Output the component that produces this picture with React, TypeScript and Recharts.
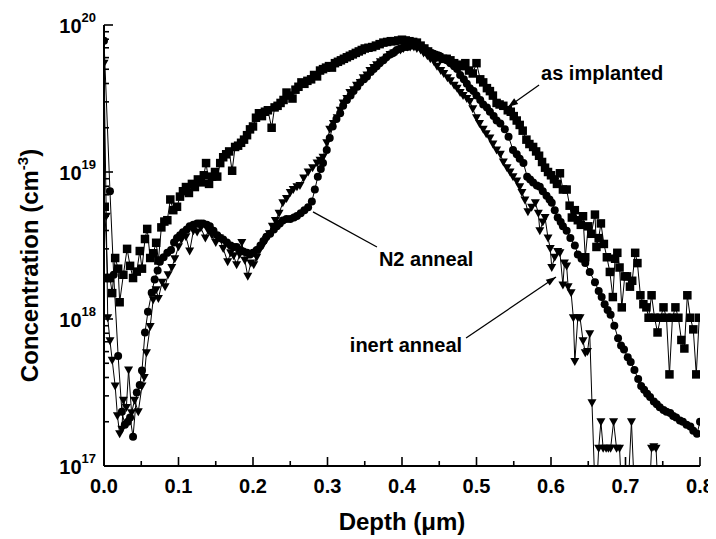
import React from 'react';
import { ComposedChart, Line, XAxis, YAxis, ReferenceLine, ReferenceDot } from 'recharts';

// ---------- data ----------
const implantDepth = [
  0.001, 0.005, 0.008, 0.011, 0.015, 0.019, 0.021, 0.026, 0.031, 0.035, 0.039, 0.044, 0.048, 0.051, 0.055, 0.058,
  0.062, 0.066, 0.070, 0.073, 0.077, 0.081, 0.085, 0.089, 0.093, 0.098, 0.102, 0.106, 0.110, 0.114, 0.118, 0.122,
  0.126, 0.130, 0.134, 0.137, 0.141, 0.145, 0.149, 0.152, 0.156, 0.160, 0.164, 0.168, 0.172, 0.176, 0.180, 0.184,
  0.188, 0.192, 0.196, 0.200, 0.204, 0.208, 0.212, 0.216, 0.220, 0.225, 0.229, 0.233, 0.237, 0.241, 0.245, 0.249,
  0.253, 0.257, 0.261, 0.265, 0.269, 0.273, 0.278, 0.282, 0.286, 0.290, 0.294, 0.298, 0.302, 0.306, 0.310, 0.314,
  0.318, 0.322, 0.326, 0.330, 0.334, 0.338, 0.342, 0.346, 0.350, 0.355, 0.360, 0.365, 0.370, 0.375, 0.380, 0.385,
  0.390, 0.395, 0.400, 0.405, 0.410, 0.415, 0.420, 0.425, 0.430, 0.435, 0.440, 0.445, 0.450, 0.455, 0.460, 0.465,
  0.470, 0.475, 0.480, 0.485, 0.490, 0.495, 0.500, 0.505, 0.509, 0.514, 0.518, 0.522, 0.527, 0.531, 0.536, 0.542,
  0.546, 0.550, 0.554, 0.558, 0.562, 0.567, 0.571, 0.576, 0.580, 0.584, 0.588, 0.592, 0.596, 0.600, 0.604, 0.608,
  0.612, 0.616, 0.621, 0.625, 0.628, 0.632, 0.636, 0.640, 0.643, 0.646, 0.650, 0.654, 0.659, 0.661, 0.664, 0.667,
  0.671, 0.675, 0.679, 0.683, 0.686, 0.689, 0.692, 0.695, 0.699, 0.702, 0.706, 0.709, 0.713, 0.716, 0.720, 0.724,
  0.728, 0.731, 0.735, 0.739, 0.743, 0.747, 0.751, 0.755, 0.759, 0.763, 0.767, 0.771, 0.775, 0.779, 0.783, 0.787,
  0.791, 0.795, 0.799,
];
const implantConc = [
  5.8e18, 1.9e18, 1.9e18, 1.5e18, 2.6e18, 2.2e18, 1.3e18, 2.0e18, 3.0e18, 2.3e18, 1.9e18, 2.1e18, 2.9e18, 2.2e18, 3.5e18, 4.1e18,
  2.6e18, 2.8e18, 3.3e18, 2.5e18, 4.2e18, 4.6e18, 4.7e18, 6.5e18, 5.5e18, 5.8e18, 6.8e18, 7.4e18, 7.9e18, 7.2e18, 8.3e18, 7.9e18,
  8.9e18, 8.5e18, 9.5e18, 1.15e19, 8.3e18, 9.3e18, 1.0e19, 9.3e18, 1.15e19, 1.26e19, 1.32e19, 1.38e19, 1.02e19, 1.48e19, 1.51e19, 1.58e19,
  1.66e19, 1.78e19, 1.95e19, 2.04e19, 2.34e19, 2.51e19, 2.4e19, 2.57e19, 2.63e19, 2.0e19, 2.75e19, 2.82e19, 2.95e19, 3.09e19, 3.47e19, 3.31e19,
  3.16e19, 3.63e19, 3.8e19, 4.07e19, 3.98e19, 4.17e19, 4.27e19, 4.57e19, 4.47e19, 4.9e19, 5.01e19, 5.13e19, 5.25e19, 5.13e19, 5.5e19, 5.62e19,
  5.75e19, 5.89e19, 6.03e19, 6.17e19, 6.31e19, 6.46e19, 6.61e19, 6.76e19, 6.92e19, 7.0e19, 7.08e19, 7.24e19, 7.41e19, 7.59e19, 7.67e19, 7.76e19,
  7.76e19, 7.85e19, 7.94e19, 7.85e19, 7.76e19, 7.67e19, 7.59e19, 7.24e19, 6.92e19, 6.61e19, 6.31e19, 6.17e19, 6.03e19, 5.89e19, 5.89e19, 5.75e19,
  5.5e19, 5.37e19, 5.25e19, 5.5e19, 4.9e19, 4.68e19, 5.5e19, 4.27e19, 4.07e19, 3.72e19, 3.55e19, 3.31e19, 2.95e19, 2.88e19, 2.82e19, 2.63e19,
  2.57e19, 2.4e19, 2.24e19, 2.09e19, 1.91e19, 1.66e19, 1.55e19, 1.48e19, 1.38e19, 1.29e19, 1.17e19, 1.07e19, 1.0e19, 9.5e18, 8.9e18, 8.3e18,
  9.8e18, 7.6e18, 7.6e18, 5.9e18, 4.9e18, 5.5e18, 4.7e18, 4.37e18, 5.0e18, 2.63e18, 4.27e18, 3.8e18, 5.13e18, 3.09e18, 3.55e18, 4.47e18,
  3.24e18, 2.63e18, 2.09e18, 1.41e18, 2.57e18, 2.82e18, 2.24e18, 1.2e18, 1.95e18, 1.95e18, 1.66e18, 1.82e18, 2.82e18, 2.4e18, 1.45e18, 1.26e18,
  1.2e18, 1.02e18, 1.45e18, 1.02e18, 8.1e17, 1.02e18, 1.2e18, 1.02e18, 4.2e17, 1.02e18, 1.2e18, 1.02e18, 7.2e17, 6.3e17, 1.45e18, 1.02e18,
  8.5e17, 4.2e17, 1.02e18,
];

const n2Depth = [
  0.000, 0.008, 0.013, 0.019, 0.024, 0.028, 0.032, 0.035, 0.039, 0.044, 0.048, 0.051, 0.055, 0.059, 0.064, 0.068,
  0.072, 0.075, 0.080, 0.085, 0.090, 0.094, 0.098, 0.102, 0.106, 0.111, 0.115, 0.120, 0.125, 0.129, 0.133, 0.138,
  0.142, 0.147, 0.152, 0.156, 0.160, 0.165, 0.170, 0.174, 0.178, 0.183, 0.187, 0.192, 0.196, 0.200, 0.205, 0.210,
  0.214, 0.218, 0.223, 0.228, 0.232, 0.236, 0.240, 0.245, 0.250, 0.255, 0.259, 0.264, 0.269, 0.274, 0.279, 0.283,
  0.287, 0.291, 0.294, 0.299, 0.303, 0.307, 0.312, 0.317, 0.321, 0.326, 0.331, 0.335, 0.340, 0.344, 0.349, 0.353,
  0.358, 0.362, 0.366, 0.370, 0.375, 0.379, 0.384, 0.388, 0.393, 0.398, 0.403, 0.407, 0.412, 0.416, 0.420, 0.425,
  0.430, 0.435, 0.440, 0.445, 0.450, 0.455, 0.460, 0.465, 0.470, 0.474, 0.478, 0.483, 0.487, 0.491, 0.496, 0.500,
  0.505, 0.509, 0.514, 0.518, 0.523, 0.527, 0.532, 0.538, 0.543, 0.549, 0.554, 0.558, 0.563, 0.568, 0.572, 0.576,
  0.581, 0.585, 0.589, 0.594, 0.598, 0.601, 0.605, 0.609, 0.613, 0.616, 0.621, 0.626, 0.632, 0.636, 0.641, 0.646,
  0.652, 0.659, 0.664, 0.668, 0.672, 0.676, 0.680, 0.685, 0.690, 0.694, 0.698, 0.703, 0.707, 0.712, 0.717, 0.721,
  0.725, 0.729, 0.733, 0.738, 0.742, 0.746, 0.751, 0.755, 0.760, 0.764, 0.768, 0.773, 0.777, 0.782, 0.787, 0.791,
  0.796, 0.800,
];
const n2Conc = [
  7.8e19, 7.4e18, 2.0e18, 5.6e17, 2.34e17, 1.91e17, 2.0e17, 2.14e17, 1.58e17, 3.16e17, 3.55e17, 4.47e17, 8.1e17, 1.12e18, 1.51e18, 1.86e18,
  2.14e18, 2.45e18, 2.63e18, 2.82e18, 2.95e18, 3.31e18, 3.55e18, 3.72e18, 3.89e18, 4.07e18, 4.27e18, 4.37e18, 4.47e18, 4.47e18, 4.47e18, 4.37e18,
  4.27e18, 3.98e18, 3.72e18, 3.55e18, 3.47e18, 3.31e18, 3.16e18, 3.09e18, 3.09e18, 2.95e18, 2.88e18, 2.82e18, 2.75e18, 2.82e18, 2.95e18, 3.16e18,
  3.39e18, 3.63e18, 3.8e18, 4.07e18, 4.27e18, 4.47e18, 4.68e18, 4.79e18, 4.79e18, 4.9e18, 5.01e18, 5.25e18, 5.5e18, 5.75e18, 6.31e18, 7.59e18,
  9.3e18, 1.05e19, 1.15e19, 1.41e19, 1.7e19, 2.04e19, 2.29e19, 2.51e19, 2.82e19, 3.09e19, 3.31e19, 3.55e19, 3.8e19, 4.07e19, 4.27e19, 4.47e19,
  4.79e19, 5.01e19, 5.25e19, 5.5e19, 5.75e19, 6.03e19, 6.31e19, 6.46e19, 6.76e19, 6.92e19, 7.08e19, 7.08e19, 7.24e19, 7.24e19, 7.24e19, 7.08e19,
  6.92e19, 6.61e19, 6.46e19, 6.31e19, 6.17e19, 5.89e19, 5.75e19, 5.5e19, 5.25e19, 5.01e19, 4.57e19, 4.27e19, 3.98e19, 3.72e19, 3.55e19, 3.31e19,
  3.09e19, 2.88e19, 2.75e19, 2.57e19, 2.4e19, 2.24e19, 2.14e19, 1.95e19, 1.74e19, 1.41e19, 1.32e19, 1.23e19, 1.15e19, 9.3e18, 8.9e18, 8.5e18,
  8.1e18, 7.94e18, 7.4e18, 6.9e18, 6.5e18, 6.17e18, 5.5e18, 4.9e18, 4.57e18, 4.27e18, 3.98e18, 3.55e18, 3.16e18, 2.75e18, 2.57e18, 2.4e18,
  2.09e18, 1.78e18, 1.55e18, 1.41e18, 1.26e18, 1.15e18, 1.07e18, 9.0e17, 7.4e17, 6.6e17, 6.2e17, 5.5e17, 5.1e17, 4.5e17, 3.9e17, 3.5e17,
  3.3e17, 3.1e17, 2.95e17, 2.75e17, 2.63e17, 2.51e17, 2.4e17, 2.34e17, 2.29e17, 2.19e17, 2.14e17, 2.04e17, 2.0e17, 1.91e17, 1.86e17, 1.74e17,
  1.66e17, 2.0e17,
];

const inertDepth = [
  0.000, 0.003, 0.005, 0.008, 0.011, 0.015, 0.018, 0.021, 0.024, 0.026, 0.030, 0.033, 0.037, 0.041, 0.046, 0.051,
  0.054, 0.057, 0.062, 0.066, 0.070, 0.073, 0.078, 0.082, 0.086, 0.091, 0.095, 0.100, 0.104, 0.110, 0.115, 0.120,
  0.125, 0.130, 0.136, 0.140, 0.145, 0.150, 0.155, 0.160, 0.166, 0.170, 0.174, 0.178, 0.182, 0.185, 0.189, 0.193,
  0.197, 0.201, 0.205, 0.209, 0.213, 0.218, 0.222, 0.226, 0.230, 0.235, 0.240, 0.245, 0.250, 0.254, 0.259, 0.263,
  0.268, 0.274, 0.280, 0.286, 0.290, 0.294, 0.299, 0.303, 0.308, 0.313, 0.317, 0.321, 0.326, 0.330, 0.335, 0.339,
  0.344, 0.348, 0.353, 0.357, 0.362, 0.366, 0.371, 0.375, 0.380, 0.384, 0.389, 0.393, 0.398, 0.402, 0.407, 0.411,
  0.416, 0.420, 0.425, 0.429, 0.434, 0.438, 0.443, 0.447, 0.452, 0.456, 0.461, 0.465, 0.470, 0.474, 0.478, 0.482,
  0.487, 0.491, 0.495, 0.500, 0.504, 0.509, 0.513, 0.518, 0.522, 0.527, 0.532, 0.536, 0.541, 0.545, 0.549, 0.554,
  0.558, 0.561, 0.565, 0.569, 0.574, 0.579, 0.583, 0.585, 0.589, 0.592, 0.596, 0.599, 0.601, 0.605, 0.609, 0.612,
  0.616, 0.618, 0.621, 0.623, 0.627, 0.630, 0.632, 0.636, 0.639, 0.643, 0.646, 0.649, 0.652, 0.655, 0.660, 0.664,
  0.667, 0.670, 0.674, 0.677, 0.680, 0.684, 0.688, 0.692, 0.696, 0.702, 0.708, 0.713, 0.722, 0.731, 0.735, 0.738,
  0.741, 0.745,
];
const inertConc = [
  5.5e19, 5.0e18, 1.02e18, 7.1e17, 5.25e17, 3.5e17, 2.2e17, 1.66e17, 1.78e17, 2.8e17, 2.5e17, 4.5e17, 2.3e17, 2.8e17, 2.34e17, 3.5e17,
  4.0e17, 5.9e17, 8.9e17, 1.35e18, 1.58e18, 1.38e18, 1.78e18, 1.66e18, 2.0e18, 2.24e18, 2.57e18, 3.1e18, 3.47e18, 3.63e18, 2.9e18, 3.98e18,
  3.9e18, 4.17e18, 3.55e18, 3.98e18, 3.72e18, 3.31e18, 3.55e18, 3.02e18, 2.45e18, 2.82e18, 2.69e18, 2.34e18, 2.75e18, 3.31e18, 2.51e18, 1.95e18,
  2.4e18, 2.34e18, 2.63e18, 2.95e18, 3.16e18, 3.47e18, 3.8e18, 4.27e18, 4.68e18, 5.25e18, 6.17e18, 6.61e18, 7.24e18, 7.59e18, 7.94e18, 8.1e18,
  9.1e18, 1.0e19, 1.07e19, 1.15e19, 1.2e19, 1.26e19, 1.58e19, 1.95e19, 2.14e19, 2.34e19, 2.63e19, 2.95e19, 3.16e19, 3.47e19, 3.63e19, 3.89e19,
  4.07e19, 4.37e19, 4.57e19, 4.9e19, 5.13e19, 5.37e19, 5.62e19, 5.75e19, 6.03e19, 6.31e19, 6.46e19, 6.61e19, 6.76e19, 6.92e19, 7.08e19, 7.08e19,
  7.08e19, 6.92e19, 6.76e19, 6.46e19, 6.17e19, 5.89e19, 5.62e19, 5.25e19, 4.9e19, 4.68e19, 4.37e19, 4.17e19, 3.89e19, 3.72e19, 3.47e19, 3.31e19,
  3.16e19, 3.02e19, 2.69e19, 2.34e19, 2.14e19, 1.95e19, 1.82e19, 1.7e19, 1.55e19, 1.41e19, 1.32e19, 1.17e19, 1.07e19, 1.0e19, 9.3e18, 8.7e18,
  7.94e18, 7.24e18, 6.46e18, 5.37e18, 5.75e18, 6.17e18, 5.25e18, 3.98e18, 4.57e18, 4.9e18, 3.55e18, 3.02e18, 2.24e18, 2.63e18, 2.88e18, 2.82e18,
  1.7e18, 2.4e18, 2.29e18, 1.66e18, 1.51e18, 1.02e18, 5.13e17, 1.02e18, 1.02e18, 7.1e17, 5.9e17, 6.0e17, 7.94e17, 2.69e17, 5.0e16, 1.32e17,
  2.0e17, 1.32e17, 1.32e17, 1.32e17, 1.32e17, 2.0e17, 1.32e17, 1.32e17, 5.0e16, 5.0e16, 2.0e17, 5.0e16, 5.0e16, 5.0e16, 1.32e17, 1.35e17,
  1.32e17, 5.0e16,
];

const xMajorTicks = [0, 0.1, 0.2, 0.3, 0.4, 0.5, 0.6, 0.7, 0.8];
const xMinorTicks = [0.05, 0.15, 0.25, 0.35, 0.45, 0.55, 0.65, 0.75];
const yMajorTicks = [1e17, 1e18, 1e19, 1e20];
const yMinorMultipliers = [2, 3, 4, 5, 6, 7, 8, 9];
const xTickLabels = ['0.0', '0.1', '0.2', '0.3', '0.4', '0.5', '0.6', '0.7', '0.8'];
const yTickExponents = ['17', '18', '19', '20'];

// ---------- helpers ----------
const zip = (d: number[], c: number[]) => d.map((depth, i) => ({ depth, conc: c[i] }));
const implantData = zip(implantDepth, implantConc);
const n2Data = zip(n2Depth, n2Conc);
const inertData = zip(inertDepth, inertConc);

const yMinorTicks: number[] = [];
yMajorTicks.slice(0, 3).forEach((m) => yMinorMultipliers.forEach((k) => yMinorTicks.push(m * k)));
const xTicks = [...xMajorTicks, ...xMinorTicks].sort((a, b) => a - b);
const yTicks = [...yMajorTicks, ...yMinorTicks].sort((a, b) => a - b);

const FONT = '"Liberation Sans", Arial, Helvetica, sans-serif';
const MAJ = 9;
const MIN = 5;
const isMajorX = (v: number) => xMajorTicks.some((t) => Math.abs(t - v) < 1e-6);
const isMajorY = (v: number) => yMajorTicks.some((t) => Math.abs(t - v) / t < 1e-6);

const BottomTick = (p: any) => {
  const v = p.payload.value;
  const major = isMajorX(v);
  const idx = xMajorTicks.findIndex((t) => Math.abs(t - v) < 1e-6);
  return (
    <g>
      <line x1={p.x} x2={p.x} y1={p.y} y2={p.y - (major ? MAJ : MIN)} stroke="#000" strokeWidth={1.6} />
      {major && (
        <text x={p.x} y={p.y + 27} textAnchor="middle" fontFamily={FONT} fontWeight="bold" fontSize={20} fill="#000">
          {xTickLabels[idx]}
        </text>
      )}
    </g>
  );
};
const TopTick = (p: any) => {
  const major = isMajorX(p.payload.value);
  return <line x1={p.x} x2={p.x} y1={p.y} y2={p.y + (major ? MAJ : MIN)} stroke="#000" strokeWidth={1.6} />;
};
const LeftTick = (p: any) => {
  const v = p.payload.value;
  const major = isMajorY(v);
  const idx = yMajorTicks.findIndex((t) => Math.abs(t - v) / t < 1e-6);
  return (
    <g>
      <line x1={p.x} x2={p.x + (major ? MAJ : MIN)} y1={p.y} y2={p.y} stroke="#000" strokeWidth={1.6} />
      {major && (
        <text x={p.x - 8} y={p.y + 8} textAnchor="end" fontFamily={FONT} fontWeight="bold" fontSize={20} fill="#000">
          10
          <tspan dy={-11} fontSize={13}>
            {yTickExponents[idx]}
          </tspan>
        </text>
      )}
    </g>
  );
};
const RightTick = (p: any) => {
  const major = isMajorY(p.payload.value);
  return <line x1={p.x} x2={p.x - (major ? MAJ : MIN)} y1={p.y} y2={p.y} stroke="#000" strokeWidth={1.6} />;
};

const XTitle = (p: any) => {
  const vb = p.viewBox;
  return (
    <text x={vb.x + vb.width / 2} y={vb.y + 64} textAnchor="middle" fontFamily={FONT} fontWeight="bold" fontSize={24} fill="#000">
      Depth (μm)
    </text>
  );
};
const YTitle = (p: any) => {
  const vb = p.viewBox;
  const cx = vb.x + 30;
  const cy = vb.y + vb.height / 2 + 20;
  return (
    <text x={cx} y={cy} transform={`rotate(-90, ${cx}, ${cy})`} textAnchor="middle" fontFamily={FONT} fontWeight="bold" fontSize={24} fill="#000">
      Concentration (cm
      <tspan dy={-10} fontSize={15}>-3</tspan>
      <tspan dy={10}>)</tspan>
    </text>
  );
};

const squareDot = (p: any) => (
  <rect key={`s${p.index}`} x={p.cx - 4.25} y={p.cy - 4.25} width={8.5} height={8.5} fill="#000" />
);
const circleDot = (p: any) => <circle key={`c${p.index}`} cx={p.cx} cy={p.cy} r={4} fill="#000" />;
const triDot = (p: any) => (
  <path key={`t${p.index}`} d={`M${p.cx - 4.5},${p.cy - 3.5}L${p.cx + 4.5},${p.cy - 3.5}L${p.cx},${p.cy + 4.5}Z`} fill="#000" />
);

const arrowShape = (withHead: boolean) => (p: any) => {
  const { x1, y1, x2, y2 } = p;
  const a = Math.atan2(y2 - y1, x2 - x1);
  const L = 10;
  const w = 3.5;
  const bx = x2 - L * Math.cos(a);
  const by = y2 - L * Math.sin(a);
  const px = -Math.sin(a) * w;
  const py = Math.cos(a) * w;
  return (
    <g>
      <line x1={x1} y1={y1} x2={x2} y2={y2} stroke="#000" strokeWidth={1.3} />
      {withHead && <polygon points={`${x2},${y2} ${bx + px},${by + py} ${bx - px},${by - py}`} fill="#000" />}
    </g>
  );
};
const labelShape = (text: string) => (p: any) => (
  <text x={p.cx} y={p.cy} textAnchor="start" fontFamily={FONT} fontWeight="bold" fontSize={20} fill="#000">
    {text}
  </text>
);

export default function App() {
  return (
    <ComposedChart width={708} height={531} margin={{ top: 17, right: 16, bottom: 0, left: 0 }} style={{ background: '#fff' }}>
      <XAxis
        xAxisId="b"
        dataKey="depth"
        type="number"
        domain={[0, 0.8]}
        allowDataOverflow
        ticks={xTicks}
        interval={0}
        tickSize={0}
        tickMargin={0}
        tickLine={false}
        tick={<BottomTick />}
        axisLine={{ stroke: '#000', strokeWidth: 2 }}
        height={73}
        label={<XTitle />}
      />
      <XAxis
        xAxisId="t"
        orientation="top"
        type="number"
        domain={[0, 0.8]}
        allowDataOverflow
        ticks={xTicks}
        interval={0}
        tickSize={0}
        tickMargin={0}
        tickLine={false}
        tick={<TopTick />}
        axisLine={{ stroke: '#000', strokeWidth: 2 }}
        height={0}
      />
      <YAxis
        yAxisId="l"
        type="number"
        scale="log"
        domain={[1e17, 1e20]}
        allowDataOverflow
        ticks={yTicks}
        interval={0}
        tickSize={0}
        tickMargin={0}
        tickLine={false}
        tick={<LeftTick />}
        axisLine={{ stroke: '#000', strokeWidth: 2 }}
        width={96}
        label={<YTitle />}
      />
      <YAxis
        yAxisId="r"
        orientation="right"
        type="number"
        scale="log"
        domain={[1e17, 1e20]}
        allowDataOverflow
        ticks={yTicks}
        interval={0}
        tickSize={0}
        tickMargin={0}
        tickLine={false}
        tick={<RightTick />}
        axisLine={{ stroke: '#000', strokeWidth: 2 }}
        width={0}
      />
      <Line xAxisId="b" yAxisId="l" data={implantData} dataKey="conc" stroke="#000" strokeWidth={1} dot={squareDot} activeDot={false} isAnimationActive={false} />
      <Line xAxisId="b" yAxisId="l" data={n2Data} dataKey="conc" stroke="#000" strokeWidth={1} dot={circleDot} activeDot={false} isAnimationActive={false} />
      <Line xAxisId="b" yAxisId="l" data={inertData} dataKey="conc" stroke="#000" strokeWidth={1} dot={triDot} activeDot={false} isAnimationActive={false} />

      <ReferenceLine xAxisId="b" yAxisId="l" segment={[{ x: 0.584, y: 3.91e19 }, { x: 0.5423, y: 2.77e19 }]} shape={arrowShape(true)} />
      <ReferenceLine xAxisId="b" yAxisId="l" segment={[{ x: 0.3664, y: 3.09e18 }, { x: 0.2805, y: 5.35e18 }]} shape={arrowShape(false)} />
      <ReferenceLine xAxisId="b" yAxisId="l" segment={[{ x: 0.486, y: 7.43e17 }, { x: 0.6067, y: 1.93e18 }]} shape={arrowShape(true)} />

      <ReferenceDot xAxisId="b" yAxisId="l" x={0.5866} y={4.23e19} r={0} shape={labelShape('as implanted')} />
      <ReferenceDot xAxisId="b" yAxisId="l" x={0.369} y={2.3e18} r={0} shape={labelShape('N2 anneal')} />
      <ReferenceDot xAxisId="b" yAxisId="l" x={0.33} y={5.97e17} r={0} shape={labelShape('inert anneal')} />
    </ComposedChart>
  );
}
